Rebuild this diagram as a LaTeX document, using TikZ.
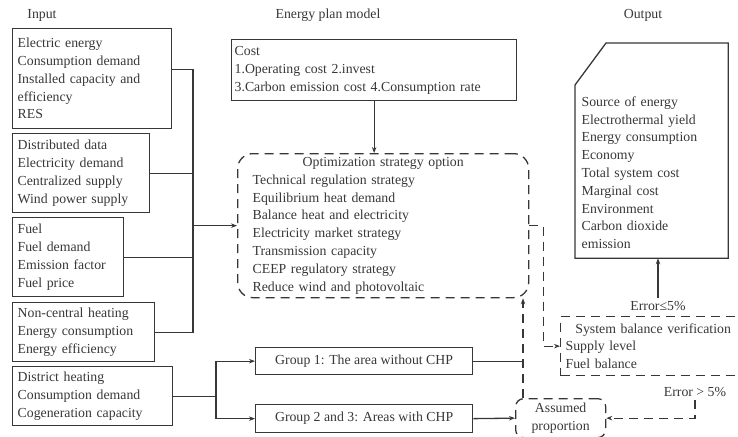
\documentclass[tikz,border=0pt]{standalone}
\usepackage{fontspec}
\setmainfont{Liberation Serif}
\usepackage{tikz}
\usetikzlibrary{calc, positioning, arrows.meta}
\definecolor{InkGrey}{RGB}{55,55,55}
\newcommand{\bodyfont}{\fontsize{13.8}{17.8}\selectfont}
\tikzset{
  box/.style={draw=InkGrey, line width=1.3pt, text=InkGrey, anchor=north west,
    align=left, inner xsep=5pt, inner ysep=2pt, font=\bodyfont},
  dbox/.style={box, dash pattern=on 9pt off 6pt},
  wire/.style={draw=InkGrey, line width=1.3pt},
  arr/.style={wire, -{Stealth[length=6pt,width=4.5pt]}},
  darr/.style={arr, dash pattern=on 9pt off 6pt},
  lab/.style={text=InkGrey, font=\bodyfont}
}

\begin{document}
\begin{tikzpicture}[x=1pt, y=-1pt]
    \useasboundingbox (0,0) rectangle (738,436);

    % Títulos
    \node[lab] (tin) at (42,15) {Input};
    \node[lab] (tmodel) at (328,15) {Energy plan model};
    \node[lab] (tout) at (643,15) {Output};

    % Datos de entrada
    \node[box, text width=149pt, minimum height=100pt] (in1) at (12,28)
        {Electric energy\\Consumption demand\\Installed capacity and\\efficiency\\RES};
    \node[box, text width=127pt, minimum height=79pt] (in2) at (12,133)
        {Distributed data\\Electricity demand\\Centralized supply\\Wind power supply};
    \node[box, text width=101pt, minimum height=79pt] (in3) at (12,217)
        {Fuel\\Fuel demand\\Emission factor\\Fuel price};
    \node[box, text width=132pt, minimum height=59pt] (in4) at (12,302)
        {Non-central heating\\Energy consumption\\Energy efficiency};
    \node[box, text width=150pt, minimum height=59pt] (in5) at (12,366)
        {District heating\\Consumption demand\\Cogeneration capacity};

    % Modelo
    \node[box, text width=279pt, inner xsep=3pt, minimum height=61pt] (cost) at (231,39)
        {Cost\\1.Operating cost 2.invest\\3.Carbon emission cost 4.Consumption rate};
    \node[dbox, rounded corners=15pt, text width=261pt, inner xsep=15pt, inner ysep=0pt,
        minimum height=144pt] (opt) at (237,153)
        {\makebox[\hsize][c]{Optimization strategy option}\\Technical regulation strategy\\
         Equilibrium heat demand\\Balance heat and electricity\\Electricity market strategy\\
         Transmission capacity\\CEEP regulatory strategy\\Reduce wind and photovoltaic};
    \node[box, align=center, minimum width=217pt, minimum height=27pt] (g1) at (255,347)
        {Group 1: The area without CHP};
    \node[box, align=center, minimum width=217pt, minimum height=28pt] (g2) at (255,404)
        {Group 2 and 3: Areas with CHP};
    \node[dbox, rounded corners=8pt, align=center, inner xsep=2pt, minimum width=90pt,
        minimum height=39pt] (ap) at (515,398) {Assumed\\proportion};

    % Salida
    \node[box, draw=none, text width=140pt, inner xsep=6pt, minimum height=214pt] (out) at (575,43)
        {\mbox{}\\[36pt]Source of energy\\Electrothermal yield\\Energy consumption\\Economy\\
         Total system cost\\Marginal cost\\Environment\\Carbon dioxide\\emission};
    \draw[wire] ([yshift=-42pt]out.north west) -- ([xshift=31pt]out.north west)
        -- (out.north east) -- (out.south east) -- (out.south west) -- cycle;
    \node[dbox, text width=175pt, minimum height=59pt] (sys) at (560,316)
        {\makebox[\hsize][c]{System balance verification}\\Supply level\\Fuel balance};
    \node[lab] (elow) at (658,306) {Error≤5\%};
    \node[lab] (ehigh) at (695,392) {Error > 5\%};

    % Conexiones
    \coordinate (busx) at (193,0);
    \draw[wire] ([yshift=9pt]in1.east) -| (in4.east -| busx) -- (in4.east);
    \foreach \n in {in2,in3}
        \draw[wire] (\n.east) -- (\n.east -| busx);
    \draw[arr] (opt.west -| busx) -- (opt.west);

    \coordinate (split) at (216,0);
    \draw[wire] (in5.east) -- (in5.east -| split);
    \draw[arr] (in5.east -| split) |- (g1.west);
    \draw[arr] (in5.east -| split) |- (g2.west);

    \draw[arr] (cost.south) -- (cost.south |- opt.north);

    \coordinate (merge) at ([xshift=8pt]ap.north west);
    \draw[darr] (merge) -- (merge |- opt.south);
    \draw[wire] (g1.east) -- (g1.east -| merge);
    \draw[arr] (g2.east) -- (ap.west);

    \draw[darr] (opt.east) -- ++(14,0) |- (sys.west);
    \draw[arr] (elow.north) -- (elow.north |- out.south);
    \draw[darr] (ehigh.south) |- (ap.east);
\end{tikzpicture}
\end{document}
